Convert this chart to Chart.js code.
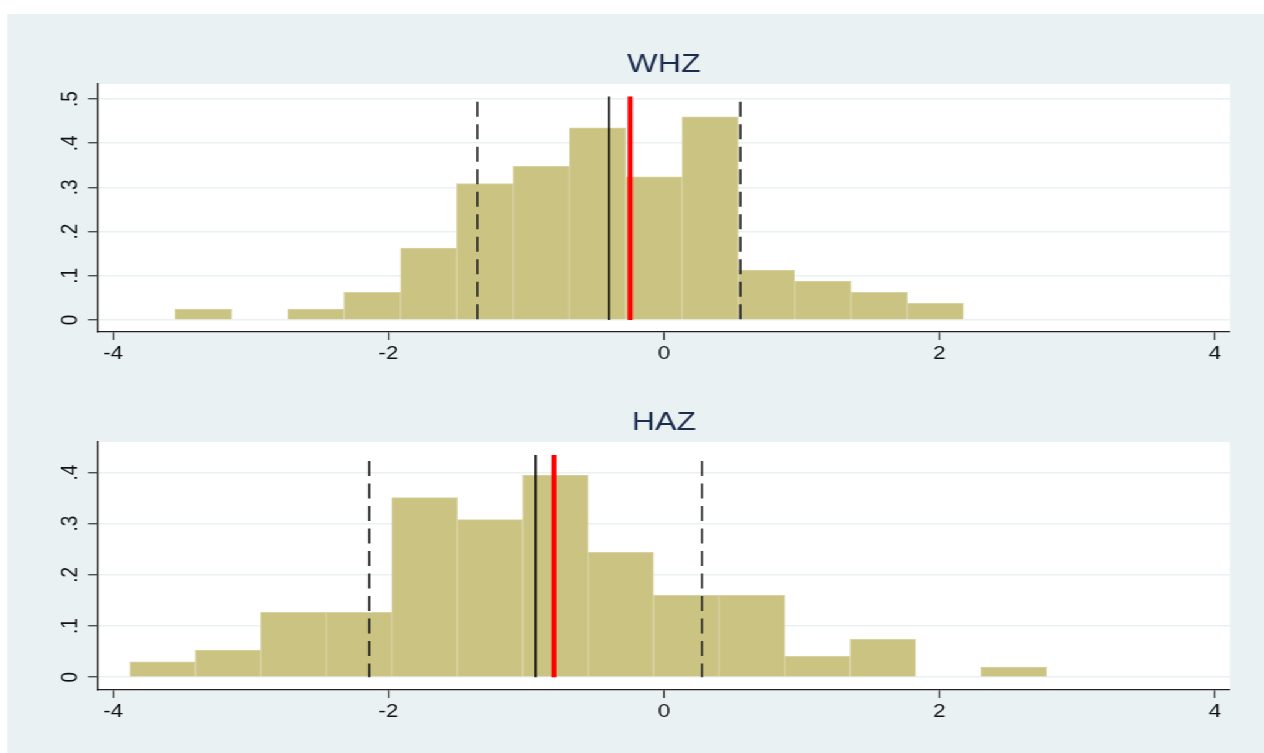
<!DOCTYPE html>
<html>
<head>
<meta charset="utf-8">
<script src="https://cdn.jsdelivr.net/npm/chart.js@4.4.1/dist/chart.umd.min.js"></script>
<style>
  html, body { margin: 0; padding: 0; background: #fff; overflow: hidden; }
  /* the reference is stretched sideways, so draw narrower and widen */
  #stage { position: absolute; left: 0; top: 0; width: 1020px; height: 753px; transform: scaleX(1.24); transform-origin: 0 0; }
  #bg { position: absolute; left: 6.45px; top: 14px; right: 0; bottom: 0; background: #E9F1F3; }
  canvas { position: absolute; left: 0; }
  #whz { top: 14px; }
  #haz { top: 386px; }
</style>
</head>
<body>
<div id="stage">
  <div id="bg"></div>
  <canvas id="whz" width="1020" height="372"></canvas>
  <canvas id="haz" width="1020" height="367"></canvas>
</div>
<script>
// ticks of the x axis (both panels)
const xTicks = [-4, -2, 0, 2, 4];

// WHZ: equal bins, density per bin
const whzBinStart = -3.55;
const whzBinWidth = 0.409;
const whzDensity = [0.025, 0, 0.025, 0.063, 0.163, 0.309, 0.348, 0.435, 0.324, 0.460, 0.113, 0.088, 0.063, 0.038];
const whzYTicks = [0, 0.1, 0.2, 0.3, 0.4, 0.5];
const whzMean = -0.40;          // black line
const whzSdBand = [-1.356, 0.554]; // dashed lines
const whzRef = -0.245;          // red line

// HAZ
const hazBinStart = -3.879;
const hazBinWidth = 0.4755;
const hazDensity = [0.030, 0.053, 0.127, 0.127, 0.351, 0.308, 0.395, 0.244, 0.160, 0.160, 0.041, 0.074, 0, 0.020];
const hazYTicks = [0, 0.1, 0.2, 0.3, 0.4];
const hazMean = -0.932;
const hazSdBand = [-2.141, 0.276];
const hazRef = -0.799;

const font = 'Liberation Sans';

// white plot area
const plotBg = {
    id: 'plotBg',
    beforeDraw: chart => {
        const {ctx, chartArea: a} = chart;
        ctx.save();
        ctx.fillStyle = '#ffffff';
        ctx.fillRect(a.left, a.top, a.right - a.left, a.bottom - a.top);
        ctx.restore();
    }
};

let vline = (x, top, color, width, dash) => ({
    type: 'line',
    data: [{x: x, y: top}, {x: x, y: 0}],
    borderColor: color,
    borderWidth: width,
    borderDash: dash || [],
    pointRadius: 0,
    order: 1
});

let makeHist = (ctx, {title, binStart, binWidth, density, yTicks, yMin, yMax, mean, band, ref, lineTop, dashTop, padTop, xHeight}) => new Chart(ctx, {
    type: 'bar',
    data: {
        datasets: [
            vline(ref, lineTop, '#ff0000', 4),
            vline(mean, lineTop, '#000000', 1.6),
            ...band.map(v => vline(v, dashTop, '#222222', 1.7, [15, 7.5])),
            {
                type: 'bar',
                data: density.map((d, i) => ({x: binStart + binWidth * (i + 0.5), y: d})),
                backgroundColor: '#CBC382',
                borderColor: '#D9D3A3',
                borderWidth: 1,
                barPercentage: 1,
                categoryPercentage: 1,
                order: 5
            }
        ]
    },
    options: {
        responsive: false,
        animation: false,
        layout: {padding: {top: padTop, left: 0, right: 28.1, bottom: 0}},
        plugins: {
            legend: {display: false},
            tooltip: {enabled: false},
            title: {
                display: true, text: title, fullSize: false, color: '#1c2c4e',
                font: {family: font, size: 26, weight: 'normal'},
                padding: {top: 0, bottom: 3.4}
            }
        },
        scales: {
            x: {
                type: 'linear', min: -4.11, max: 4.11, offset: false,
                afterBuildTicks: s => { s.ticks = xTicks.map(v => ({value: v})); },
                afterFit: s => { s.height = xHeight; },
                grid: {offset: false, drawOnChartArea: false, tickLength: 8, tickColor: '#333', tickWidth: 1.2},
                border: {color: '#222', width: 1.3},
                ticks: {color: '#111', font: {family: font, size: 18}, padding: 3, maxRotation: 0}
            },
            y: {
                type: 'linear', min: yMin, max: yMax,
                afterBuildTicks: s => { s.ticks = yTicks.map(v => ({value: v})); },
                afterFit: s => { s.width = 79.03; },
                grid: {color: '#E9F1F3', lineWidth: 1.5, tickColor: '#333', tickLength: 8, tickWidth: 1.2},
                border: {color: '#222', width: 1.3},
                ticks: {
                    color: '#111', font: {family: font, size: 19}, padding: 6,
                    minRotation: 90, maxRotation: 90, crossAlign: 'center',
                    callback: v => v === 0 ? '0' : String(v).replace(/^0\./, '.')
                }
            }
        }
    },
    plugins: [plotBg]
});

makeHist(document.getElementById('whz'), {
    title: 'WHZ', binStart: whzBinStart, binWidth: whzBinWidth, density: whzDensity,
    yTicks: whzYTicks, yMin: -0.027, yMax: 0.534,
    mean: whzMean, band: whzSdBand, ref: whzRef,
    lineTop: 0.506, dashTop: 0.494, padTop: 35.4, xHeight: 54
});

makeHist(document.getElementById('haz'), {
    title: 'HAZ', binStart: hazBinStart, binWidth: hazBinWidth, density: hazDensity,
    yTicks: hazYTicks, yMin: -0.025, yMax: 0.46,
    mean: hazMean, band: hazSdBand, ref: hazRef,
    lineTop: 0.434, dashTop: 0.4226, padTop: 21.2, xHeight: 63
});
</script>
</body>
</html>
